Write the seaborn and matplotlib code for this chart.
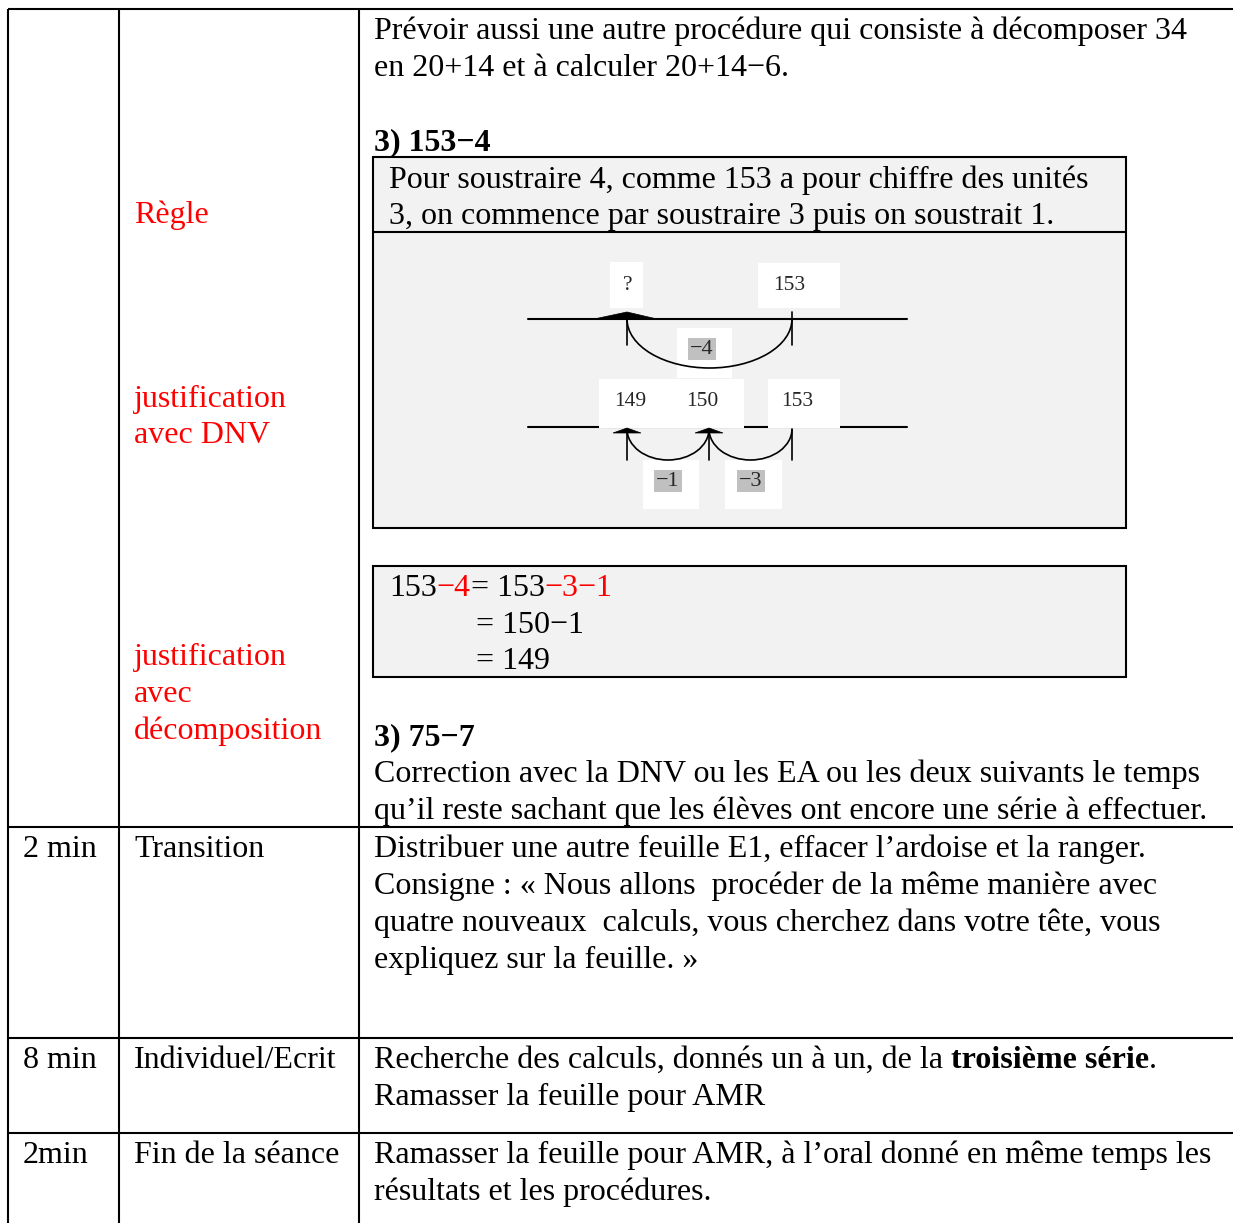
import numpy as np
import seaborn as sns
import matplotlib.pyplot as plt
from matplotlib.patches import Rectangle, Polygon, Arc

sns.set_theme(style='white')
plt.rcParams['font.family'] = ['Liberation Serif', 'DejaVu Serif']

W, H = 1233, 1223
FS = 23.0
SMALL = 15.5
JUMP_FS = 16
RED = '#ff0000'
GRAY_BOX = '#f2f2f2'
HILITE = '#c0c0c0'
LW = 1.5

# table content
durations = ['', '2 min', '8 min', '2min']
phases = ['', 'Transition', 'Individuel/Ecrit', 'Fin de la séance']
red_notes = [('Règle',), ('justification', 'avec DNV'), ('justification', 'avec', 'décomposition')]
intro_lines = ['Prévoir aussi une autre procédure qui consiste à décomposer 34',
               'en 20+14 et à calculer 20+14−6.']
title_1 = '3) 153−4'
rule_lines = ['Pour soustraire 4, comme 153 a pour chiffre des unités',
              '3, on commence par soustraire 3 puis on soustrait 1.']
title_2 = '3) 75−7'
correction_lines = ['Correction avec la DNV ou les EA ou les deux suivants le temps',
                    'qu’il reste sachant que les élèves ont encore une série à effectuer.']
transition_lines = ['Distribuer une autre feuille E1, effacer l’ardoise et la ranger.',
                    'Consigne : « Nous allons  procéder de la même manière avec',
                    'quatre nouveaux  calculs, vous cherchez dans votre tête, vous',
                    'expliquez sur la feuille. »']
end_lines = ['Ramasser la feuille pour AMR, à l’oral donné en même temps les',
             'résultats et les procédures.']

# number line diagram
start_value = 153
jump_total = -4
jumps = [-3, -1]
top_labels = ['?', '153']
bottom_labels = ['149', '150', '153']

fig = plt.figure(figsize=(W / 100, H / 100), dpi=100)
ax = fig.add_axes([0, 0, 1, 1])
ax.set_xlim(0, W)
ax.set_ylim(H, 0)
ax.axis('off')


def put(x, y, s, **kw):
    kw.setdefault('fontsize', FS)
    return ax.text(x, y, s, ha='left', va='baseline', color=kw.pop('color', 'black'), **kw)


def put_runs(x, y, runs):
    t = None
    for s, color, weight, gap in runs:
        if t is None:
            t = put(x, y, s, color=color, fontweight=weight)
        else:
            t = ax.annotate(s, xy=(1, 0), xycoords=t, xytext=(gap, 0), textcoords='offset pixels',
                            ha='left', va='bottom', fontsize=FS, color=color, fontweight=weight)
    return t


# table grid
col_x = [8, 119, 359]
row_y = [9, 827, 1038, 1133]
for x in col_x:
    ax.plot([x, x], [row_y[0], H + 5], color='black', lw=LW, solid_capstyle='butt')
for y in row_y:
    ax.plot([col_x[0], W + 5], [y, y], color='black', lw=LW, solid_capstyle='butt')

# column 1 / 2 text
first_base = [None, 857, 1068, 1163]
for i in range(1, 4):
    put(23, first_base[i], durations[i])
    put(134, first_base[i], phases[i])

note_bases = [[223], [407, 443], [665, 702, 739]]
for lines, bases in zip(red_notes, note_bases):
    for s, b in zip(lines, bases):
        put(134, b, s, color=RED)

# column 3, first row
TX = 374
put(TX, 39, intro_lines[0])
put(TX, 76, intro_lines[1])
put(TX, 150, title_1, fontweight='bold')

# box 1 (rule + diagram)
bx0, bx1 = 373, 1126
ax.add_patch(Rectangle((bx0, 157), bx1 - bx0, 528 - 157, fc=GRAY_BOX, ec='black', lw=LW, zorder=1))
ax.plot([bx0, bx1], [232, 232], color='black', lw=LW, zorder=2)
put(389, 188, rule_lines[0])
put(389, 224, rule_lines[1])

# diagram geometry
x_q, x_150, x_153 = 627, 709, 792
line_x = (528, 907)
top_y, bot_y = 319, 427
DZ = 3

ax.plot(line_x, [top_y, top_y], color='black', lw=LW, zorder=DZ)
ax.plot(line_x, [bot_y, bot_y], color='black', lw=LW, zorder=DZ)

# white label boxes
WZ = 4
label_boxes = [(610, 262, 33, 46), (758, 263, 82, 45), (599, 379, 145, 49), (768, 379, 72, 49),
               (677, 328, 55, 50), (643, 460, 56, 49), (725, 460, 57, 49)]
for (x, y, w, h) in label_boxes:
    ax.add_patch(Rectangle((x, y), w, h, fc='white', ec='none', zorder=WZ))

# top: jump of -4 from 153 to ?
AZ = 4.5
ax.plot([x_153, x_153], [312, 345], color='black', lw=1.2, zorder=AZ)
ax.plot([x_q, x_q], [top_y, 345], color='black', lw=1.2, zorder=AZ)
ax.add_patch(Arc(((x_q + x_153) / 2, top_y), x_153 - x_q, 2 * 49, theta1=0, theta2=180,
                 color='black', lw=1.2, zorder=AZ))
ax.add_patch(Polygon([[594, top_y], [657, top_y], [x_q, 312]], closed=True, fc='black', ec='black',
                     lw=0.5, zorder=AZ))

# bottom: jumps -3 then -1
for x in [x_q, x_150, x_153]:
    ax.plot([x, x], [bot_y + 2, 460], color='black', lw=1.2, zorder=AZ)
for a, b in [(x_150, x_153), (x_q, x_150)]:
    ax.add_patch(Arc(((a + b) / 2, bot_y + 2), b - a, 2 * 31, theta1=0, theta2=180,
                     color='black', lw=1.2, zorder=AZ))
for x in [x_q, x_150]:
    ax.add_patch(Polygon([[x - 14, bot_y + 6], [x + 14, bot_y + 6], [x, bot_y + 1]], closed=True,
                         fc='black', ec='black', lw=0.5, zorder=AZ))

TZ = 5
for s, x in zip(top_labels, [628, 789]):
    ax.text(x, 285, s, fontsize=SMALL, ha='center', va='center', zorder=TZ)
for s, x in zip(bottom_labels, [630, 702, 797]):
    ax.text(x, 401, s, fontsize=SMALL, ha='center', va='center', zorder=TZ)

hl = dict(boxstyle='square,pad=0.08', fc=HILITE, ec='none')
ax.text(702, 349, f'−{abs(jump_total)}', fontsize=JUMP_FS, ha='center', va='center', bbox=hl, zorder=TZ)
ax.text(668, 481, f'−{abs(jumps[1])}', fontsize=JUMP_FS, ha='center', va='center', bbox=hl, zorder=TZ)
ax.text(751, 481, f'−{abs(jumps[0])}', fontsize=JUMP_FS, ha='center', va='center', bbox=hl, zorder=TZ)

# box 2 (decomposition)
ax.add_patch(Rectangle((bx0, 566), bx1 - bx0, 677 - 566, fc=GRAY_BOX, ec='black', lw=LW, zorder=1))
put_runs(389, 596, [(str(start_value), 'black', 'normal', 0),
                    (f'−{abs(jump_total)}', RED, 'normal', 0),
                    (f'= {start_value}', 'black', 'normal', 0),
                    (f'−{abs(jumps[0])}−{abs(jumps[1])}', RED, 'normal', 0)])
put(476, 633, f'= {start_value + jumps[0]}−{abs(jumps[1])}')
put(476, 669, f'= {start_value + jump_total}')

put(TX, 745, title_2, fontweight='bold')
put(TX, 782, correction_lines[0])
put(TX, 819, correction_lines[1])

# other rows
for i, s in enumerate(transition_lines):
    put(TX, 857 + 37 * i, s)
put_runs(TX, 1068, [('Recherche des calculs, donnés un à un, de la', 'black', 'normal', 0),
                    ('troisième série', 'black', 'bold', 8),
                    ('.', 'black', 'normal', 0)])
put(TX, 1105, 'Ramasser la feuille pour AMR')
for i, s in enumerate(end_lines):
    put(TX, 1163 + 37 * i, s)

fig.savefig('out.png', dpi=100)
